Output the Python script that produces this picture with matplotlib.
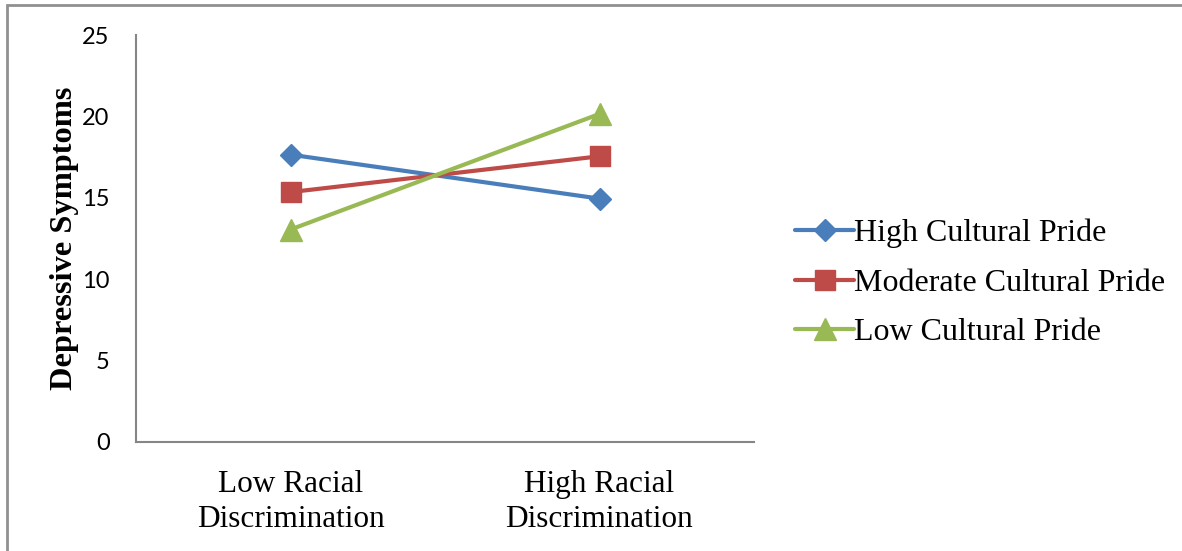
import matplotlib
matplotlib.use("Agg")
import matplotlib.pyplot as plt
from matplotlib.patches import Rectangle

# --- data ---
categories = ["Low Racial\nDiscrimination", "High Racial\nDiscrimination"]
high_pride = [17.65, 14.95]
moderate_pride = [15.35, 17.55]
low_pride = [13.05, 20.15]
series_names = ["High Cultural Pride", "Moderate Cultural Pride", "Low Cultural Pride"]
y_ticks = [0, 5, 10, 15, 20, 25]

SERIF = "Liberation Serif"
SANS = "Lato"

fig = plt.figure(figsize=(11.82, 5.51), dpi=100)
ax = fig.add_axes([136 / 1182, 1 - 442 / 551, 618 / 1182, 407 / 551])

x = range(len(categories))
styles = [
    (high_pride, "#4a7ebb", "D", 11),
    (moderate_pride, "#be4b48", "s", 14),
    (low_pride, "#98b954", "^", 16),
]
for (vals, col, mk, ms), name in zip(styles, series_names):
    ax.plot(x, vals, color=col, lw=3.0, marker=mk, markersize=ms,
            markeredgecolor=col, label=name, solid_capstyle="round")

ax.set_xlim(-0.5, 1.5)
ax.set_ylim(0, 25)
ax.set_yticks(y_ticks)
ax.set_xticks(list(x))
ax.set_xticklabels(categories, fontfamily=SERIF, fontsize=22.5, linespacing=1.3)
ax.tick_params(axis="x", length=0, pad=20)
ax.tick_params(axis="y", length=0, pad=19, labelsize=17)
for t in ax.get_yticklabels():
    t.set_fontfamily(SANS)

for s in ["top", "right"]:
    ax.spines[s].set_visible(False)
for s in ["left", "bottom"]:
    ax.spines[s].set_color("#868686")
    ax.spines[s].set_linewidth(1.5)

ax.set_ylabel("Depressive Symptoms", fontfamily=SERIF, fontweight="bold",
              fontsize=23.3, labelpad=2)

leg = fig.legend(loc="center left", bbox_to_anchor=(795 / 1182, 1 - 283 / 551),
                 frameon=False, prop={"family": SERIF, "size": 23},
                 handlelength=1.85, handletextpad=0.0, labelspacing=0.63,
                 borderaxespad=0, borderpad=0)

# outer frame of the chart area
fig.patches.append(Rectangle((7 / 1182, -0.1), 1.2, 1 - 5 / 551 + 0.1,
                             transform=fig.transFigure, fill=False,
                             edgecolor="#909090", lw=2))

fig.savefig("out.png", dpi=100)
